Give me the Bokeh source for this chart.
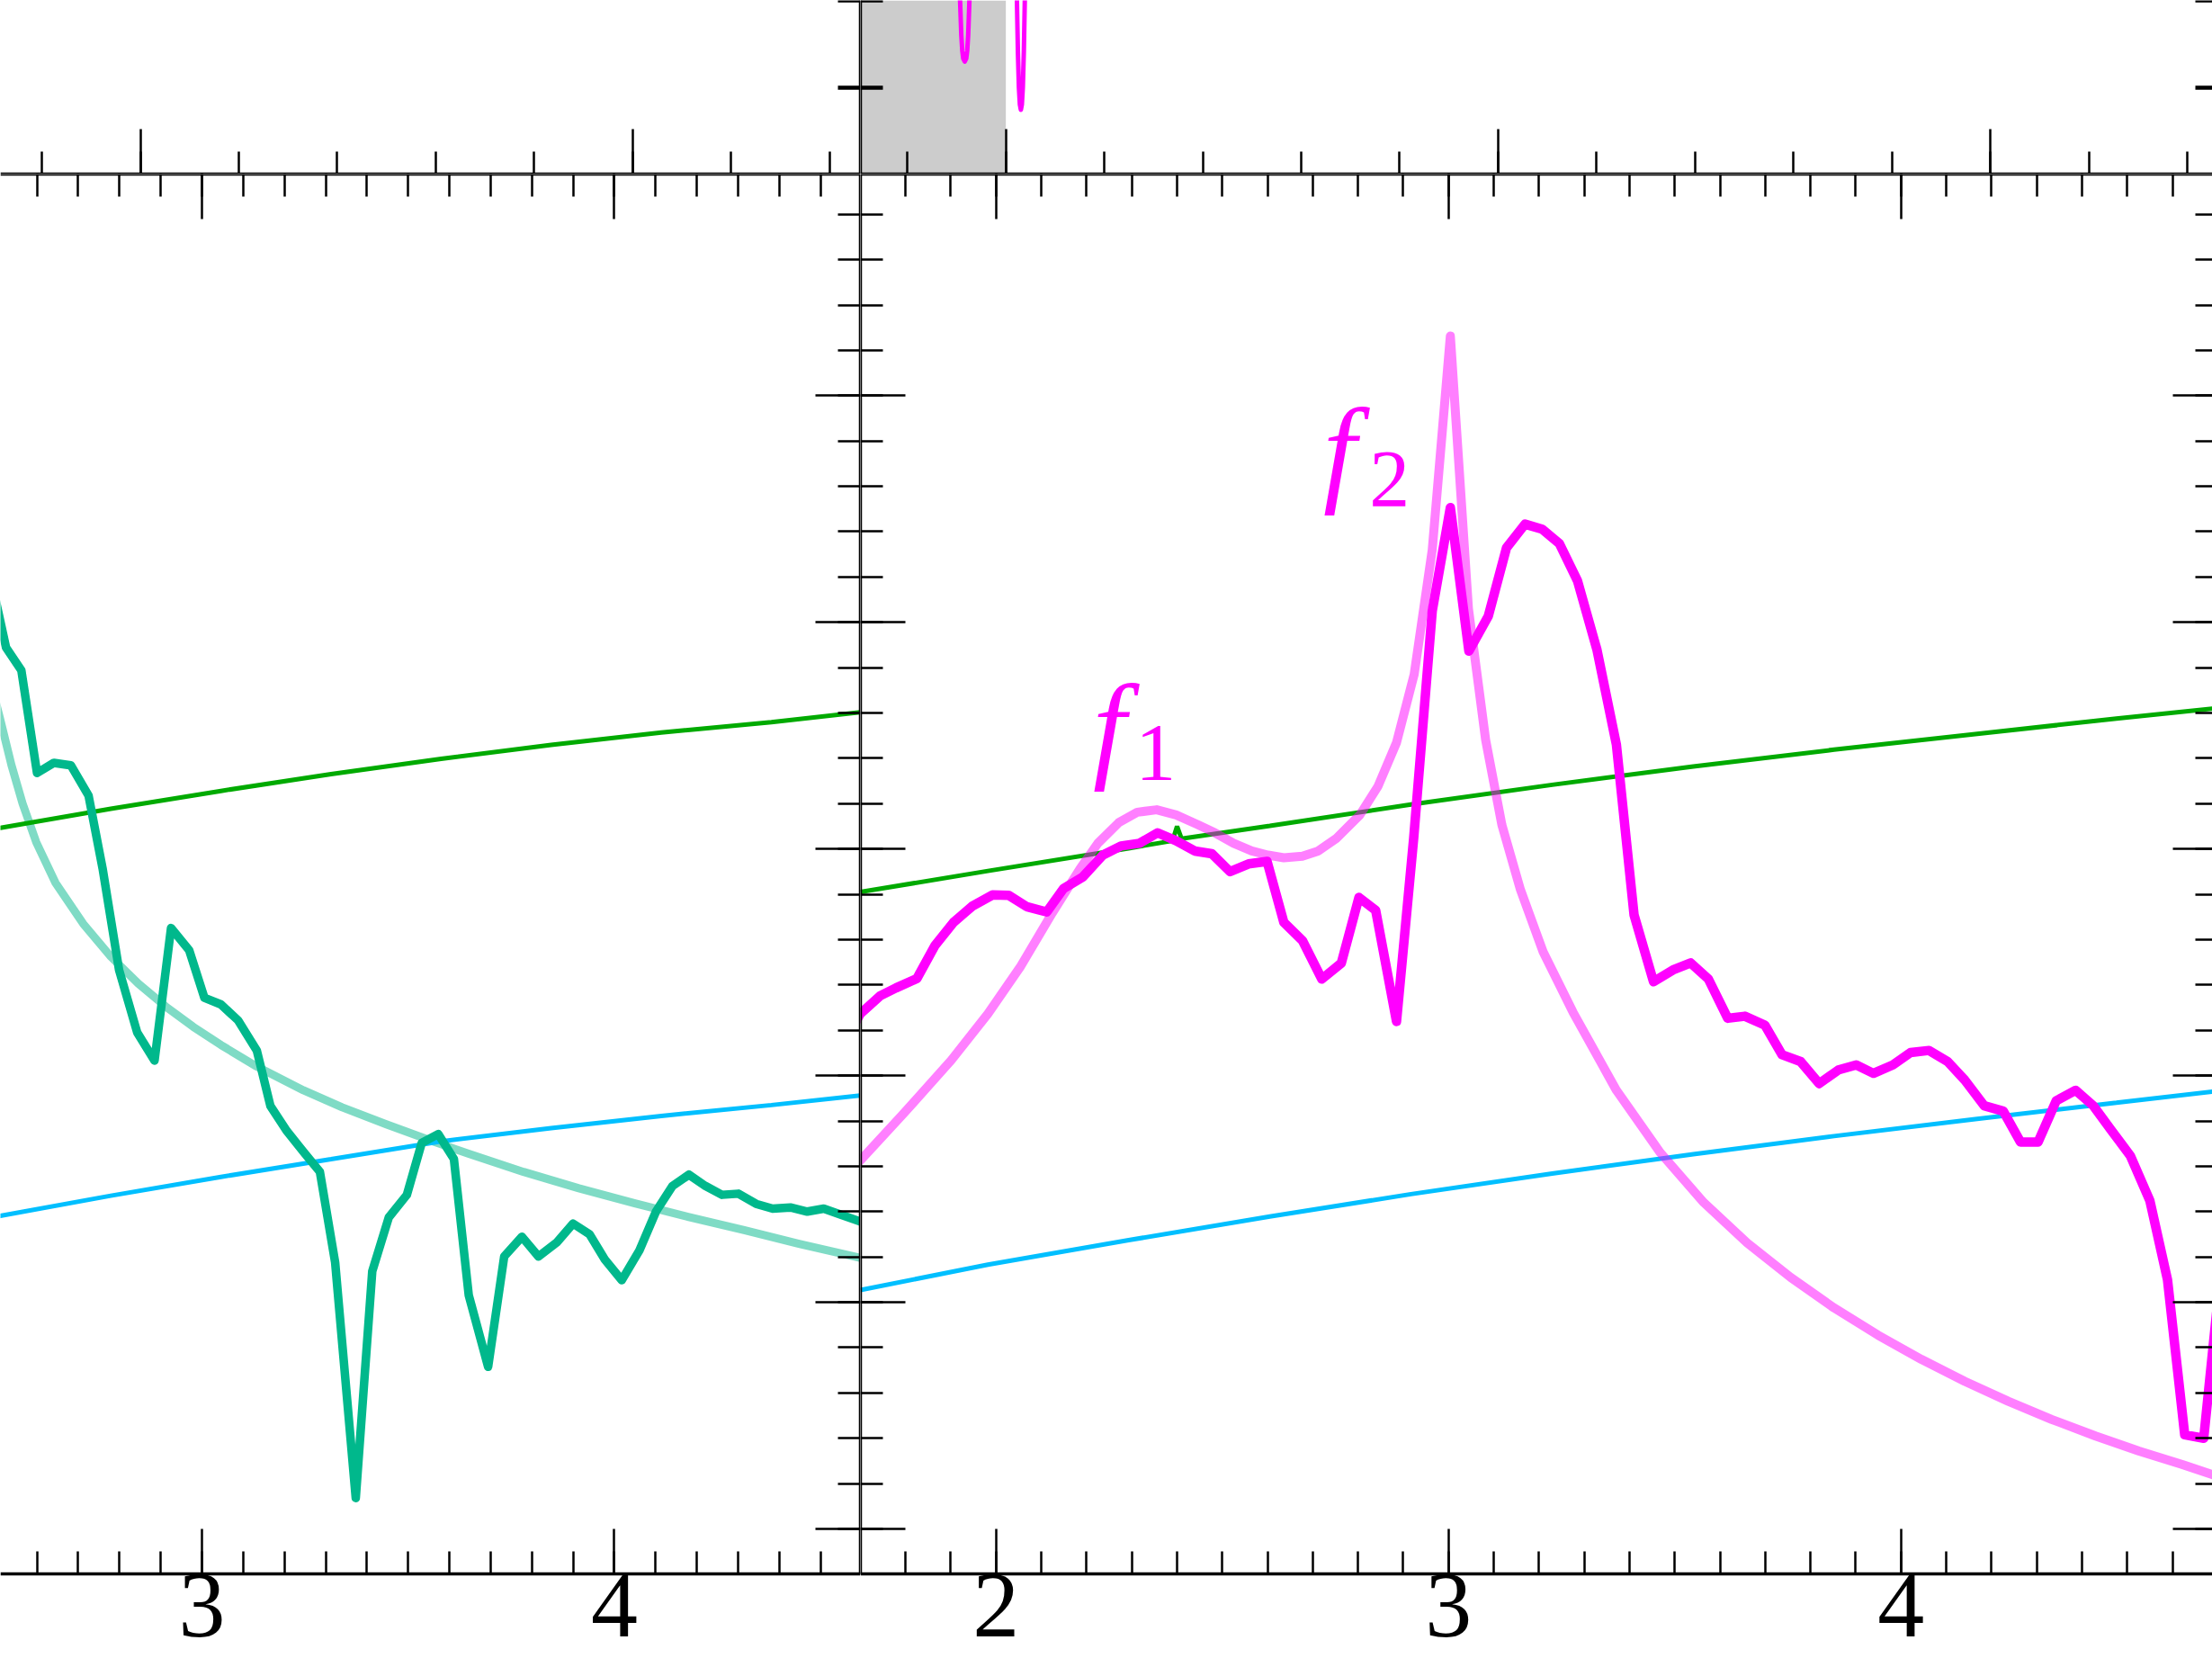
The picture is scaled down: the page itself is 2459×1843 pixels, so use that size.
import numpy as np
from bokeh.plotting import figure
from bokeh.models import LinearAxis, FixedTicker, Range1d, BoxAnnotation
from bokeh.layouts import column, row
from bokeh.embed import file_html
from bokeh.resources import INLINE
from bokeh.core.properties import value

# ---------------- data ----------------
# top-right strip: two narrow resonance dips of the measured curve
top_mag_x = [0.880, 0.9035, 0.907, 0.9095, 0.9115, 0.9135, 0.9165, 0.9195, 0.9215, 0.9235, 0.926, 0.9295,
             0.975, 1.0185, 1.0225, 1.0245, 1.0265, 1.0285, 1.0305, 1.0325, 1.0345, 1.0365, 1.0385, 1.0425, 1.070]
top_mag_y = [3.0, 2.6, 2.0, 1.6, 1.42, 1.33, 1.296, 1.33, 1.42, 1.6, 2.0, 2.6,
             3.2, 2.8, 2.0, 1.4, 1.0, 0.80, 0.741, 0.80, 1.0, 1.4, 2.0, 2.8, 3.2]
top_shade_end = 1.0

# lower-left panel
ll_data_x = [2.485, 2.525, 2.562, 2.600, 2.641, 2.682, 2.725, 2.759, 2.799, 2.843,
             2.885, 2.925, 2.969, 3.006, 3.046, 3.088, 3.133, 3.166, 3.206, 3.250,
             3.286, 3.323, 3.373, 3.413, 3.453, 3.497, 3.533, 3.573, 3.611, 3.647,
             3.694, 3.733, 3.776, 3.816, 3.860, 3.900, 3.940, 3.977, 4.018, 4.061,
             4.101, 4.141, 4.181, 4.221, 4.261, 4.301, 4.344, 4.384, 4.427, 4.468,
             4.508, 4.548, 4.598, 4.620]
ll_data_y = [4.22, 3.888, 3.788, 3.335, 3.380, 3.369, 3.235, 2.914, 2.466, 2.190,
             2.066, 2.651, 2.553, 2.343, 2.314, 2.243, 2.111, 1.866, 1.755, 1.655,
             1.576, 1.176, 0.136, 1.137, 1.374, 1.474, 1.703, 1.742, 1.632, 1.031,
             0.715, 1.202, 1.289, 1.202, 1.263, 1.347, 1.300, 1.189, 1.097, 1.229,
             1.400, 1.513, 1.563, 1.513, 1.474, 1.479, 1.434, 1.413, 1.418, 1.400,
             1.413, 1.387, 1.355, 1.340]
ll_fit_x = [2.490, 2.511, 2.538, 2.565, 2.598, 2.645, 2.712, 2.779, 2.846, 2.912, 2.979, 3.046,
            3.133, 3.246, 3.340, 3.447, 3.553, 3.647, 3.780, 3.914, 4.048, 4.181, 4.315, 4.448, 4.598, 4.620]
ll_fit_y = [3.72, 3.570, 3.370, 3.200, 3.030, 2.850, 2.670, 2.525, 2.405, 2.305, 2.215, 2.135,
            2.040, 1.935, 1.860, 1.785, 1.715, 1.655, 1.575, 1.503, 1.437, 1.376, 1.318, 1.258, 1.195, 1.186]
ll_green_x = [2.490, 2.511, 2.779, 3.046, 3.313, 3.580, 3.847, 4.114, 4.381, 4.620]
ll_green_y = [3.085, 3.093, 3.177, 3.256, 3.330, 3.398, 3.459, 3.514, 3.559, 3.608]
ll_cyan_x = [2.490, 2.511, 2.779, 3.046, 3.313, 3.580, 3.847, 4.114, 4.381, 4.620]
ll_cyan_y = [1.374, 1.381, 1.470, 1.553, 1.631, 1.710, 1.768, 1.822, 1.870, 1.917]

# lower-right panel
lr_data_x = [1.680, 1.700, 1.744, 1.779, 1.825, 1.865, 1.906, 1.947, 1.992, 2.028,
             2.068, 2.112, 2.149, 2.192, 2.236, 2.276, 2.317, 2.357, 2.398, 2.439,
             2.477, 2.517, 2.558, 2.599, 2.636, 2.677, 2.720, 2.763, 2.802, 2.839,
             2.885, 2.923, 2.964, 3.004, 3.045, 3.088, 3.128, 3.169, 3.207, 3.245,
             3.285, 3.328, 3.371, 3.410, 3.453, 3.496, 3.535, 3.574, 3.617, 3.655,
             3.699, 3.737, 3.778, 3.819, 3.862, 3.901, 3.939, 3.982, 4.021, 4.062,
             4.103, 4.141, 4.184, 4.226, 4.264, 4.303, 4.343, 4.386, 4.425, 4.464,
             4.507, 4.550, 4.589, 4.627, 4.669, 4.710]
lr_data_y = [2.200, 2.273, 2.352, 2.387, 2.428, 2.574, 2.676, 2.747, 2.797, 2.795,
             2.745, 2.722, 2.825, 2.877, 2.973, 3.013, 3.025, 3.071, 3.036, 2.991,
             2.979, 2.900, 2.934, 2.945, 2.676, 2.596, 2.426, 2.496, 2.786, 2.729,
             2.239, 3.048, 4.050, 4.506, 3.873, 4.028, 4.328, 4.433, 4.411, 4.347,
             4.183, 3.879, 3.460, 2.709, 2.414, 2.466, 2.497, 2.427, 2.253, 2.262,
             2.223, 2.092, 2.062, 1.965, 2.025, 2.047, 2.010, 2.047, 2.102, 2.111,
             2.062, 1.980, 1.867, 1.843, 1.707, 1.707, 1.889, 1.935, 1.867, 1.761,
             1.646, 1.448, 1.099, 0.415, 0.400, 1.200]
lr_fit_x = [1.680, 1.701, 1.794, 1.901, 1.982, 2.053, 2.124, 2.185, 2.225, 2.271, 2.312, 2.355,
            2.398, 2.444, 2.484, 2.525, 2.565, 2.601, 2.636, 2.677, 2.712, 2.753, 2.804, 2.844,
            2.885, 2.924, 2.964, 3.004, 3.044, 3.082, 3.118, 3.159, 3.209, 3.275, 3.371, 3.468,
            3.564, 3.660, 3.756, 3.852, 3.949, 4.045, 4.141, 4.237, 4.333, 4.430, 4.526, 4.622, 4.700]
lr_fit_y = [1.590, 1.628, 1.829, 2.068, 2.273, 2.478, 2.717, 2.911, 3.025, 3.116, 3.162, 3.173,
            3.150, 3.109, 3.071, 3.025, 2.991, 2.973, 2.961, 2.968, 2.991, 3.048, 3.150, 3.276,
            3.469, 3.770, 4.320, 5.263, 4.060, 3.481, 3.105, 2.820, 2.546, 2.280, 1.935, 1.660,
            1.440, 1.262, 1.110, 0.975, 0.855, 0.748, 0.651, 0.563, 0.483, 0.410, 0.343, 0.284, 0.232]
lr_green_x = [1.700, 1.982, 2.293, 2.390, 2.400, 2.410, 2.605, 2.917, 3.229, 3.541, 3.852, 4.164, 4.476, 4.700]
lr_green_y = [2.810, 2.903, 3.003, 3.036, 3.100, 3.045, 3.102, 3.196, 3.283, 3.364, 3.438, 3.507, 3.575, 3.622]
lr_cyan_x = [1.700, 1.982, 2.293, 2.605, 2.917, 3.229, 3.541, 3.852, 4.164, 4.476, 4.700]
lr_cyan_y = [1.054, 1.166, 1.274, 1.378, 1.477, 1.568, 1.653, 1.733, 1.808, 1.880, 1.932]

label_f_x = [2.214, 2.723]
label_f_y = [3.542, 4.760]
label_sub_x = [2.308, 2.825]
label_sub_y = [3.423, 4.631]
label_sub_text = ["1", "2"]

ll_major = [3, 4]
lr_major = [2, 3, 4]
y_major = [0, 1, 2, 3, 4, 5]
top_ll_major = [1, 2]
top_lr_major = [1, 2, 3]
top_y_major = [1, 2]

# ---------------- colours ----------------
MAG = "#ff00ff"
TEAL = "#00b88c"
GREEN = "#00aa00"
CYAN = "#00bfff"

W_L, W_R = 956, 1503
H_T, H_B = 193, 1650

def make_fig(w, h, xr, yr):
    p = figure(width=w, height=h, x_range=Range1d(*xr), y_range=Range1d(*yr),
               output_backend="svg", toolbar_location=None, title=None,
               x_axis_location=None, y_axis_location=None, min_border=0)
    p.outline_line_color = None
    p.xgrid.visible = False
    p.ygrid.visible = False
    p.background_fill_color = "white"
    p.border_fill_color = "white"
    return p

def add_axis(p, side, loc, ticks, minor, major_in, minor_in, line=True, labels=False,
             tick_w=2.5, bounds="auto"):
    ax = LinearAxis(fixed_location=loc, ticker=FixedTicker(ticks=ticks, minor_ticks=minor), bounds=bounds)
    ax.major_tick_in = major_in
    ax.major_tick_out = 0
    ax.minor_tick_in = minor_in
    ax.minor_tick_out = 0
    ax.major_tick_line_width = tick_w
    ax.minor_tick_line_width = tick_w
    ax.major_tick_line_color = "black"
    ax.minor_tick_line_color = "black" if minor_in > 0 else None
    ax.axis_line_width = 3.5
    ax.axis_line_color = "black" if line else None
    if labels:
        ax.major_label_text_font = "Liberation Serif"
        ax.major_label_text_font_size = "104px"
        ax.major_label_text_color = "black"
        ax.major_label_standoff = 1
        ax.major_label_overrides = {t: str(t) for t in ticks}
    else:
        ax.major_label_text_color = None
    p.add_layout(ax, side)
    return ax

# ---------------- top-left ----------------
tl_x = (0.7156, 2.4627)
top_y = (0.0, 2.0)
tl = make_fig(W_L, H_T, tl_x, top_y)
add_axis(tl, "below", top_y[0], top_ll_major, list(np.round(np.arange(0.8, 2.45, 0.2), 3)), 50, 25)
add_axis(tl, "right", tl_x[1], top_y_major, [], 25, 0, tick_w=4.5)

# ---------------- top-right ----------------
tr_x = (0.7046, 3.4509)
tr = make_fig(W_R, H_T, tr_x, top_y)
tr.add_layout(BoxAnnotation(right=top_shade_end, fill_color="#cccccc", fill_alpha=1.0,
                            line_color=None, level="underlay"))
tr.line(top_mag_x, top_mag_y, line_color=MAG, line_width=5, line_join="round", line_cap="round")
add_axis(tr, "below", top_y[0], top_lr_major, list(np.round(np.arange(0.8, 3.45, 0.2), 3)), 50, 25)
add_axis(tr, "left", tr_x[0], top_y_major, [], 25, 0, tick_w=4.5)
add_axis(tr, "right", 3.462, top_y_major, [], 25, 0, line=False, tick_w=4.5)

# ---------------- lower-left ----------------
low_y = (-0.5716, 5.9776)
frame_y = (-0.2, 5.9776)
y_minor = list(np.round(np.arange(-0.2, 6.0, 0.2), 3))
ll_xr = (2.5113, 4.5969)
ll = make_fig(W_L, H_B, ll_xr, low_y)
ll.line(ll_fit_x, ll_fit_y, line_color=TEAL, line_alpha=0.5, line_width=9, line_join="round")
ll.line(ll_green_x, ll_green_y, line_color=GREEN, line_width=5)
ll.line(ll_cyan_x, ll_cyan_y, line_color=CYAN, line_width=5)
ll.line(ll_data_x, ll_data_y, line_color=TEAL, line_width=9.5, line_join="round", line_cap="round")
ll_minor = list(np.round(np.arange(2.5, 4.65, 0.1), 3))
add_axis(ll, "below", frame_y[0], ll_major, ll_minor, 50, 25, labels=True)
add_axis(ll, "above", frame_y[1], ll_major, ll_minor, 50, 25)
add_axis(ll, "right", ll_xr[1], y_major, y_minor, 50, 25, bounds=frame_y)

# ---------------- lower-right ----------------
lr_xr = (1.7002, 4.6883)
lr = make_fig(W_R, H_B, lr_xr, low_y)
lr.line(lr_green_x, lr_green_y, line_color=GREEN, line_width=5)
lr.line(lr_cyan_x, lr_cyan_y, line_color=CYAN, line_width=5)
lr.line(lr_fit_x, lr_fit_y, line_color=MAG, line_alpha=0.5, line_width=10, line_join="round")
lr.line(lr_data_x, lr_data_y, line_color=MAG, line_width=10.5, line_join="round", line_cap="round")
lr.text(x=label_f_x, y=label_f_y, text=["f", "f"], text_color=MAG,
        text_font=value("Liberation Serif"), text_font_style="italic",
        text_font_size="132px", text_align="left", text_baseline="alphabetic")
lr.text(x=label_sub_x, y=label_sub_y, text=label_sub_text, text_color=MAG,
        text_font=value("Liberation Serif"), text_font_size="90px",
        text_align="left", text_baseline="alphabetic")
lr_minor = list(np.round(np.arange(1.7, 4.7, 0.1), 3))
add_axis(lr, "below", frame_y[0], lr_major, lr_minor, 50, 25, labels=True)
add_axis(lr, "above", frame_y[1], lr_major, lr_minor, 50, 25)
add_axis(lr, "left", lr_xr[0], y_major, y_minor, 50, 25, bounds=frame_y)
add_axis(lr, "right", 4.70, y_major, y_minor, 50, 25, line=False, bounds=frame_y)

layout = column(row(tl, tr, spacing=0), row(ll, lr, spacing=0), spacing=0)
open("out.html", "w").write(file_html(layout, INLINE))
